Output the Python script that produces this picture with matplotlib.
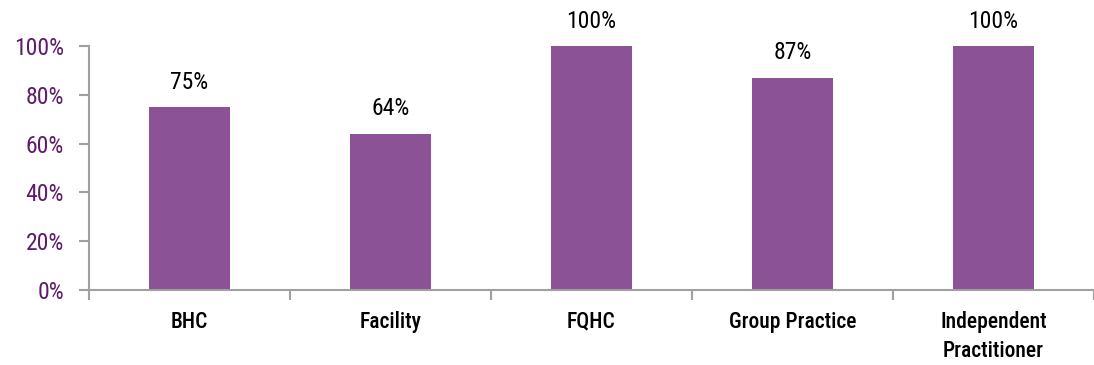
import matplotlib
matplotlib.use("Agg")
import matplotlib.pyplot as plt
from matplotlib.ticker import FixedLocator, NullFormatter
from matplotlib import font_manager

categories = ["BHC", "Facility", "FQHC", "Group Practice", "Independent\nPractitioner"]
values = [75, 64, 100, 87, 100]
y_ticks = [0, 20, 40, 60, 80, 100]
y_tick_labels = ["0%", "20%", "40%", "60%", "80%", "100%"]

names = {f.name for f in font_manager.fontManager.ttflist}
fam = "DejaVu Sans"
for cand in ["Roboto Condensed", "Archivo Narrow", "Fira Sans Condensed", "Asap Condensed", "Barlow Semi Condensed"]:
    if cand in names:
        fam = cand
        break
plt.rcParams['font.family'] = [fam, 'DejaVu Sans']

fig = plt.figure(figsize=(10.94, 3.65), dpi=100)
ax = fig.add_axes([89/1094, 1-290/365, 1-89/1094, 244/365])

bar_color = "#8B5395"
xs = [i + 0.5 for i in range(len(categories))]
ax.bar(xs, values, width=0.4, color=bar_color)

for x, v in zip(xs, values):
    ax.text(x, v + 5.5, f"{v}%", ha="center", va="bottom", fontsize=17, color="black")

ax.set_xlim(0, len(categories))
ax.set_ylim(0, 100)
ax.set_yticks(y_ticks)
ax.set_yticklabels(y_tick_labels, fontsize=17, color="#5E1A6B")
ax.set_xticks(xs)
ax.set_xticklabels(categories, fontsize=15.5, fontweight="medium", color="black", linespacing=1.45)
ax.xaxis.set_minor_locator(FixedLocator(list(range(len(categories) + 1))))
ax.xaxis.set_minor_formatter(NullFormatter())
ax.tick_params(axis="x", which="major", length=0, pad=15)
ax.tick_params(axis="x", which="minor", length=7, width=1.5, color="#A0A0A0", direction="out")
ax.tick_params(axis="y", length=7, width=1.5, color="#A0A0A0", direction="out", pad=11)
for s in ["top", "right"]:
    ax.spines[s].set_visible(False)
for s in ["left", "bottom"]:
    ax.spines[s].set_color("#A0A0A0")
    ax.spines[s].set_linewidth(1.5)
ax.spines["bottom"].set_zorder(3)

fig.savefig("out.png", dpi=100)
